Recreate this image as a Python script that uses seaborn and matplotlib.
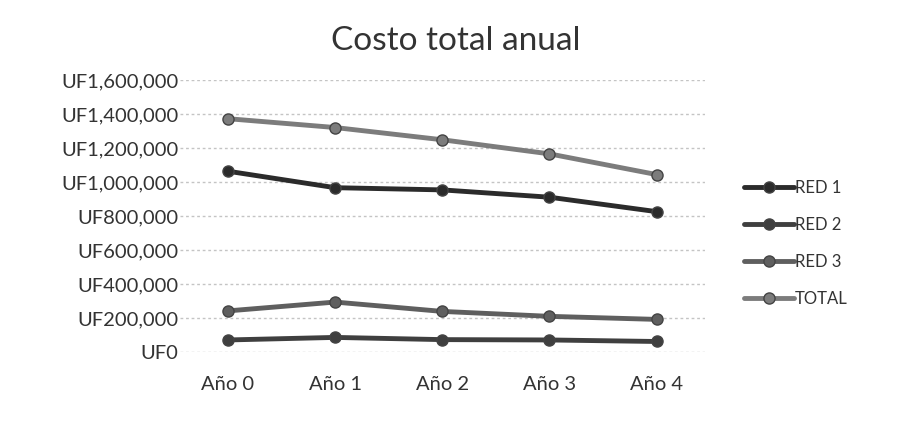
import pandas as pd
import seaborn as sns
import matplotlib.pyplot as plt
from matplotlib.ticker import FuncFormatter

# Datos (UF)
anios = ['Año 0', 'Año 1', 'Año 2', 'Año 3', 'Año 4']
red_1 = [1064000, 967000, 954000, 911000, 826000]
red_2 = [71000, 86000, 73000, 71000, 62000]
red_3 = [242000, 294000, 239000, 210000, 192000]
total = [1373000, 1321000, 1249000, 1166000, 1044000]

series = {'RED 1': red_1, 'RED 2': red_2, 'RED 3': red_3, 'TOTAL': total}
colores = {'RED 1': '#2b2b2b', 'RED 2': '#3f3f3f', 'RED 3': '#5f5f5f', 'TOTAL': '#7c7c7c'}

filas = []
for nombre, valores in series.items():
    for i, v in enumerate(valores):
        filas.append({'pos': i, 'costo': v, 'serie': nombre})
df = pd.DataFrame(filas)

sns.set_style('white')
plt.rcParams['font.family'] = ['Lato', 'DejaVu Sans']

fig = plt.figure(figsize=(8.98, 4.33), dpi=100)
ax = fig.add_axes([0.200, 0.187, 0.585, 0.628])

sns.lineplot(data=df, x='pos', y='costo', hue='serie', palette=colores,
             marker='o', markersize=8, linewidth=3.5, sort=False, ax=ax,
             markeredgecolor='#444444', markeredgewidth=1)

ax.set_ylim(0, 1600000)
ax.set_yticks(range(0, 1600001, 200000))
ax.yaxis.set_major_formatter(FuncFormatter(lambda v, p: f"UF{v:,.0f}"))
ax.set_xlim(-0.45, 4.45)
ax.set_xticks(range(len(anios)))
ax.set_xticklabels(anios)
ax.tick_params(axis='y', labelsize=14.5, colors='#333333', pad=1, length=0)
ax.tick_params(axis='x', labelsize=14.5, colors='#333333', pad=17, length=0)
ax.set_xlabel('')
ax.set_ylabel('')

ax.yaxis.grid(True, color='#c4c4c4', linestyle=(0, (2, 2)), linewidth=1)
for s in ax.spines.values():
    s.set_visible(False)

fig.text(0.508, 0.905, 'Costo total anual', ha='center', va='center',
         fontsize=24, color='#333333')

ax.legend(loc='center left', bbox_to_anchor=(1.045, 0.40), frameon=False,
          fontsize=12, handlelength=3.0, handletextpad=0.1, labelspacing=1.25,
          labelcolor='#333333')

plt.savefig('out.png', dpi=100)
